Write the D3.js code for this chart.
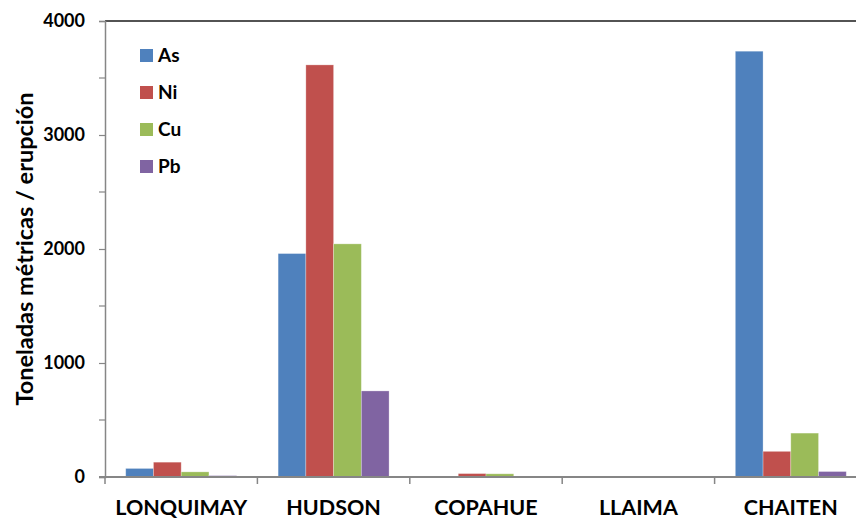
<!DOCTYPE html>
<html>
<head>
<meta charset="utf-8">
<script src="https://cdn.jsdelivr.net/npm/d3@7/dist/d3.min.js"></script>
<style>
  html, body { margin: 0; padding: 0; background: #fff; }
  svg { display: block; }
  text { font-family: Lato, "Open Sans", "DejaVu Sans", sans-serif; font-weight: bold; fill: #000; }
</style>
</head>
<body>
<svg id="chart" width="856" height="521"></svg>
<script>
// Volcanoes and metals (metric tonnes per eruption)
const volcanoes = ["LONQUIMAY", "HUDSON", "COPAHUE", "LLAIMA", "CHAITEN"];
const metals = ["As", "Ni", "Cu", "Pb"];
const asValues = [75, 1960, 3, 0.5, 3735];
const niValues = [130, 3615, 30, 0.5, 225];
const cuValues = [45, 2045, 28, 0.5, 385];
const pbValues = [12, 755, 2, 0.5, 48];
const metalColors = ["#4F81BD", "#C0504D", "#9BBB59", "#8064A2"];
const yTicks = [0, 1000, 2000, 3000, 4000];
const yMinorTicks = [500, 1500, 2500, 3500];

const seriesValues = [asValues, niValues, cuValues, pbValues];
const rows = volcanoes.map((v, i) => ({
  volcano: v,
  values: metals.map((m, j) => ({ metal: m, value: seriesValues[j][i] }))
}));

const svg = d3.select("#chart");
const margin = { left: 105, top: 21, bottom: 477 };
const plotRight = 867;

const x0 = d3.scaleBand().domain(volcanoes).range([margin.left, plotRight]).paddingInner(0).paddingOuter(0);
const groupPad = 0.136;
const x1 = d3.scaleBand().domain(metals)
  .range([x0.bandwidth() * groupPad, x0.bandwidth() * (1 - groupPad)]).padding(0);
const y = d3.scaleLinear().domain([0, 4000]).range([margin.bottom, margin.top]);
const color = d3.scaleOrdinal().domain(metals).range(metalColors);

// Top frame line
svg.append("line")
  .attr("x1", margin.left).attr("x2", 856)
  .attr("y1", y(4000)).attr("y2", y(4000))
  .attr("stroke", "#1a1a1a").attr("stroke-width", 1.5);

// Bars
svg.append("g").selectAll("g")
  .data(rows).join("g")
  .attr("transform", d => `translate(${x0(d.volcano)},0)`)
  .selectAll("rect")
  .data(d => d.values).join("rect")
  .attr("x", d => x1(d.metal))
  .attr("width", x1.bandwidth())
  .attr("y", d => y(d.value))
  .attr("height", d => y(0) - y(d.value))
  .attr("fill", d => color(d.metal))
  .attr("stroke", "rgba(255,255,255,0.35)")
  .attr("stroke-width", 0.8);

// Y axis
const yAxis = svg.append("g")
  .attr("transform", `translate(${margin.left},0)`)
  .call(d3.axisLeft(y).tickValues(yTicks).tickSize(6).tickPadding(14).tickFormat(d3.format("d")));
yAxis.select(".domain").attr("stroke", "#868686").attr("stroke-width", 1.5);
yAxis.selectAll(".tick line").attr("stroke", "#868686").attr("stroke-width", 1.2);
yAxis.selectAll(".tick text").style("font-size", "18px").style("font-family", "Lato, 'Open Sans', sans-serif").style("font-weight", "bold").attr("fill", "#000");

svg.append("g").selectAll("line")
  .data(yMinorTicks).join("line")
  .attr("x1", margin.left - 6).attr("x2", margin.left)
  .attr("y1", d => y(d)).attr("y2", d => y(d))
  .attr("stroke", "#868686").attr("stroke-width", 1.2);

// X axis
const xTickPositions = volcanoes.map(v => x0(v)).concat([plotRight]);
svg.append("line")
  .attr("x1", margin.left - 6).attr("x2", 856)
  .attr("y1", y(0)).attr("y2", y(0))
  .attr("stroke", "#868686").attr("stroke-width", 2);
svg.append("g").selectAll("line")
  .data(xTickPositions).join("line")
  .attr("x1", d => d).attr("x2", d => d)
  .attr("y1", y(0)).attr("y2", y(0) + 7)
  .attr("stroke", "#868686").attr("stroke-width", 1.5);
svg.append("g").selectAll("text")
  .data(volcanoes).join("text")
  .attr("x", d => x0(d) + x0.bandwidth() / 2)
  .attr("y", 515)
  .attr("text-anchor", "middle")
  .style("font-size", "21.5px")
  .text(d => d);

// Y axis title
svg.append("text")
  .attr("transform", "translate(33,249) rotate(-90)")
  .attr("text-anchor", "middle")
  .style("font-size", "23.5px")
  .text("Toneladas métricas / erupción");

// Legend
const legend = svg.append("g").selectAll("g")
  .data(metals).join("g")
  .attr("transform", (d, i) => `translate(140,${55 + i * 37})`);
legend.append("rect")
  .attr("x", 0).attr("y", -6).attr("width", 13).attr("height", 13)
  .attr("fill", d => color(d));
legend.append("text")
  .attr("x", 18).attr("y", 7)
  .style("font-size", "19px")
  .text(d => d);
</script>
</body>
</html>
